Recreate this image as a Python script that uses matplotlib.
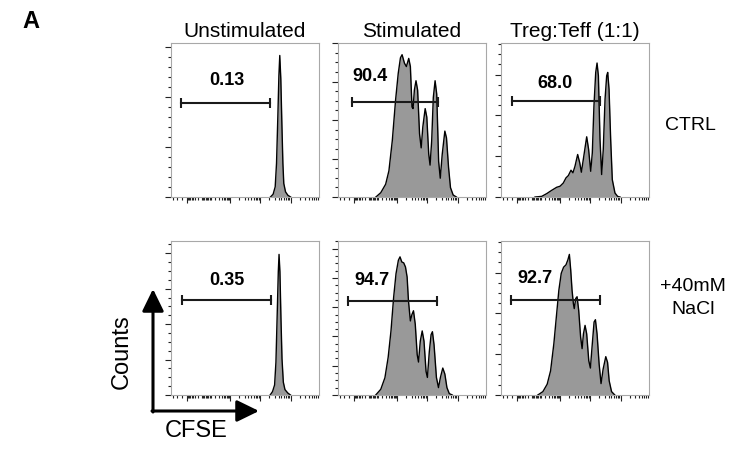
import numpy as np
import matplotlib
matplotlib.use("Agg")
from matplotlib import pyplot as plt
from matplotlib.ticker import MultipleLocator, AutoMinorLocator, FixedLocator

plt.rcParams["font.family"] = ["Liberation Sans", "DejaVu Sans"]

colonne = ["Unstimulated", "Stimulated", "Treg:Teff (1:1)"]
righe = ["CTRL", "+40mM\nNaCl"]

# CFSE (scala 0-100 dell'asse) e conte (% dell'altezza)
unst_ctrl_x = [67.2, 69.0, 70.4, 71.3, 72.2, 72.9, 73.5, 74.2, 74.9, 75.6, 76.2, 77.4, 79.0, 80.8]
unst_ctrl_y = [0, 1.8, 6.6, 21.9, 52.5, 78.8, 91.9, 76.6, 48.1, 21.9, 8.8, 3.3, 1.1, 0]

stim_ctrl_x = [25.6, 28.9, 32.2, 34.4, 36.7, 38.9, 40.7, 42.2, 43.3, 44.9, 46.2, 47.8, 48.9,
               50.0, 50.7, 51.6, 52.7, 53.8, 55.1, 56.2, 57.3, 58.9, 60.0, 61.3, 62.2, 63.3,
               64.4, 65.6, 66.7, 68.0, 69.1, 70.4, 72.2, 73.3, 74.7, 76.0, 77.8, 80.0]
stim_ctrl_y = [0, 2.8, 8.3, 17.0, 36.7, 62.9, 80.3, 90.4, 92.4, 86.9, 84.7, 90.0, 84.7,
               58.5, 57.4, 69.4, 75.5, 69.4, 41.0, 31.9, 45.4, 57.4, 51.9, 27.9, 20.7, 36.5,
               64.6, 75.5, 66.8, 23.1, 12.2, 27.5, 42.8, 38.4, 19.2, 6.1, 1.3, 0]

treg_ctrl_x = [23.0, 27.5, 30.9, 34.2, 37.6, 39.9, 42.1, 43.9, 45.5, 47.3, 48.6, 50.0, 51.8,
               53.2, 54.3, 55.6, 57.9, 59.2, 60.6, 61.7, 62.8, 64.0, 64.9, 65.8, 66.9, 68.0,
               69.1, 70.3, 71.4, 72.1, 73.0, 74.1, 75.2, 77.0, 78.8, 80.4]
treg_ctrl_y = [0, 0.4, 2.2, 4.3, 6.3, 7.0, 9.1, 12.4, 13.9, 17.4, 15.7, 20.0, 27.6,
               22.2, 16.1, 24.3, 39.1, 30.9, 16.7, 28.7, 59.1, 80.9, 87.0, 78.7, 37.4, 14.6,
               30.9, 63.5, 78.7, 80.9, 70.0, 37.4, 11.3, 2.6, 0.4, 0]

unst_nacl_x = [67.0, 68.6, 70.0, 70.9, 71.8, 72.5, 73.0, 73.6, 74.3, 75.0, 75.9, 77.0, 78.9, 80.7]
unst_nacl_y = [0, 2.2, 6.5, 21.3, 53.9, 80.0, 91.3, 80.0, 49.6, 23.5, 8.3, 3.5, 1.3, 0]

stim_nacl_x = [25.5, 28.9, 31.7, 33.9, 35.8, 37.6, 39.2, 40.8, 41.9, 43.1, 44.4, 45.6, 46.7,
               47.6, 48.9, 49.9, 51.0, 52.2, 53.5, 54.4, 55.6, 56.9, 58.1, 59.5, 60.4, 61.7,
               62.9, 63.8, 64.9, 66.5, 67.9, 69.2, 70.8, 72.2, 73.6, 75.2, 77.2]
stim_nacl_y = [0, 3.7, 11.2, 24.5, 41.6, 63.5, 78.8, 87.5, 89.7, 86.4, 85.8, 83.1, 76.6,
               61.3, 48.1, 52.1, 54.7, 46.0, 26.3, 21.4, 35.0, 41.6, 35.0, 15.3, 11.4, 28.2,
               39.2, 41.1, 32.6, 11.4, 4.8, 11.4, 17.5, 13.6, 4.8, 0.9, 0]

treg_nacl_x = [24.9, 28.3, 31.2, 33.5, 35.7, 37.6, 39.1, 40.7, 42.3, 43.9, 45.2, 46.2, 47.1,
               48.0, 48.9, 49.5, 50.5, 51.4, 52.5, 53.8, 54.8, 55.7, 56.8, 57.9, 59.3, 60.4,
               61.5, 62.9, 63.8, 64.9, 66.3, 67.6, 69.0, 70.8, 72.0, 73.1, 74.7, 76.9]
treg_nacl_y = [0, 2.2, 7.0, 15.7, 33.2, 52.8, 68.1, 79.0, 83.0, 84.5, 87.8, 91.3, 81.2,
               68.1, 59.4, 56.1, 62.7, 63.8, 55.0, 37.6, 30.1, 39.7, 45.2, 39.7, 22.3, 17.5,
               31.0, 47.4, 48.9, 39.7, 20.1, 7.4, 16.8, 24.9, 21.2, 9.2, 2.2, 0]

istogrammi = [
    (unst_ctrl_x, unst_ctrl_y), (stim_ctrl_x, stim_ctrl_y), (treg_ctrl_x, treg_ctrl_y),
    (unst_nacl_x, unst_nacl_y), (stim_nacl_x, stim_nacl_y), (treg_nacl_x, treg_nacl_y),
]

# gate di proliferazione e percentuali
percentuali = ["0.13", "90.4", "68.0", "0.35", "94.7", "92.7"]
gate_da = [6.8, 9.3, 7.2, 7.3, 6.6, 6.8]
gate_a = [67.2, 67.8, 67.1, 67.5, 67.0, 67.0]
gate_y = [61.3, 61.6, 62.2, 61.5, 61.1, 61.6]

# posizione delle etichette dentro i pannelli
etich_x = [37.8, 21.8, 36.5, 37.5, 23.2, 23.1]
etich_y = [75.5, 78.2, 73.7, 74.6, 74.4, 75.8]
# passo dei tick maggiori sull'asse delle conte
passo_y = [32.5, 25, 26.5, 23, 19, 26.5]

# tick dell'asse CFSE (biesponenziale)
zero = 25.3
dec = 20.4
tick_magg = [10.6, 40.0, 40.0 + dec, 40.0 + 2 * dec]
tick_min = [1.1, 4.3, 7.2, 21.8, 22.6, 23.4, 24.2, 25.3, 26.3, 27.2]
for k in range(2, 10):
    tick_min.append(zero + 14.7 * np.log10(k))
    tick_min.append(zero - 14.7 * np.log10(k))
    for d in tick_magg[1:]:
        if d + dec * np.log10(k) < 100:
            tick_min.append(d + dec * np.log10(k))

fig = plt.figure(figsize=(7.34, 4.5), dpi=100)
sx = [171, 338, 501]
sy = [43, 241]
W, H = 148, 154

for i, (xs, ys) in enumerate(istogrammi):
    r, c = divmod(i, 3)
    ax = fig.add_axes([sx[c] / 734, 1 - (sy[r] + H) / 450, W / 734, H / 450])
    ax.fill_between(xs, ys, 0, color="#999999", lw=0)
    ax.plot(xs, ys, color="black", lw=1.0)
    ax.plot([gate_da[i], gate_a[i]], [gate_y[i], gate_y[i]], color="#1a1a1a", lw=1.5)
    ax.plot([gate_da[i], gate_a[i]], [gate_y[i], gate_y[i]], ls="none", marker="|",
            ms=7, mew=1.5, color="#1a1a1a")
    ax.text(etich_x[i], etich_y[i], percentuali[i], ha="center", va="center",
            fontsize=13, fontweight="bold")
    ax.set_xlim(0, 100)
    ax.set_ylim(0, 100)
    ax.xaxis.set_major_locator(FixedLocator(tick_magg))
    ax.xaxis.set_minor_locator(FixedLocator(tick_min))
    ax.yaxis.set_major_locator(MultipleLocator(passo_y[i]))
    ax.yaxis.set_minor_locator(AutoMinorLocator(5 if i == 0 else 4))
    ax.tick_params(which="both", labelbottom=False, labelleft=False, color="#222222",
                   width=0.8, direction="out")
    ax.tick_params(which="major", length=4)
    ax.tick_params(which="minor", length=2)
    for s in ax.spines.values():
        s.set_color("#a8a8a8")
        s.set_linewidth(0.8)
    if r == 0:
        ax.set_title(colonne[c], fontsize=15, pad=4)

# livello figura: lettera, righe, frecce
ov = fig.add_axes([0, 0, 1, 1], facecolor="none")
ov.set_xlim(0, 734)
ov.set_ylim(450, 0)
ov.axis("off")
ov.text(31, 21, "A", fontsize=17, fontweight="bold", ha="center", va="center")
ov.text(690, 125, righe[0], fontsize=14, ha="center", va="center")
ov.text(693, 298, righe[1], fontsize=14, ha="center", va="center", linespacing=1.4)
freccia = dict(arrowstyle="-|>,head_length=0.45,head_width=0.22", lw=2.2, color="black",
               mutation_scale=30, shrinkA=0, shrinkB=0)
ov.annotate("", xy=(153, 289), xytext=(153, 412), arrowprops=freccia)
ov.annotate("", xy=(259, 411), xytext=(152, 411), arrowprops=freccia)
ov.text(122, 352, "Counts", fontsize=17, rotation=90, ha="center", va="center")
ov.text(196, 431, "CFSE", fontsize=17, ha="center", va="center")

plt.savefig("out.png", dpi=100)
